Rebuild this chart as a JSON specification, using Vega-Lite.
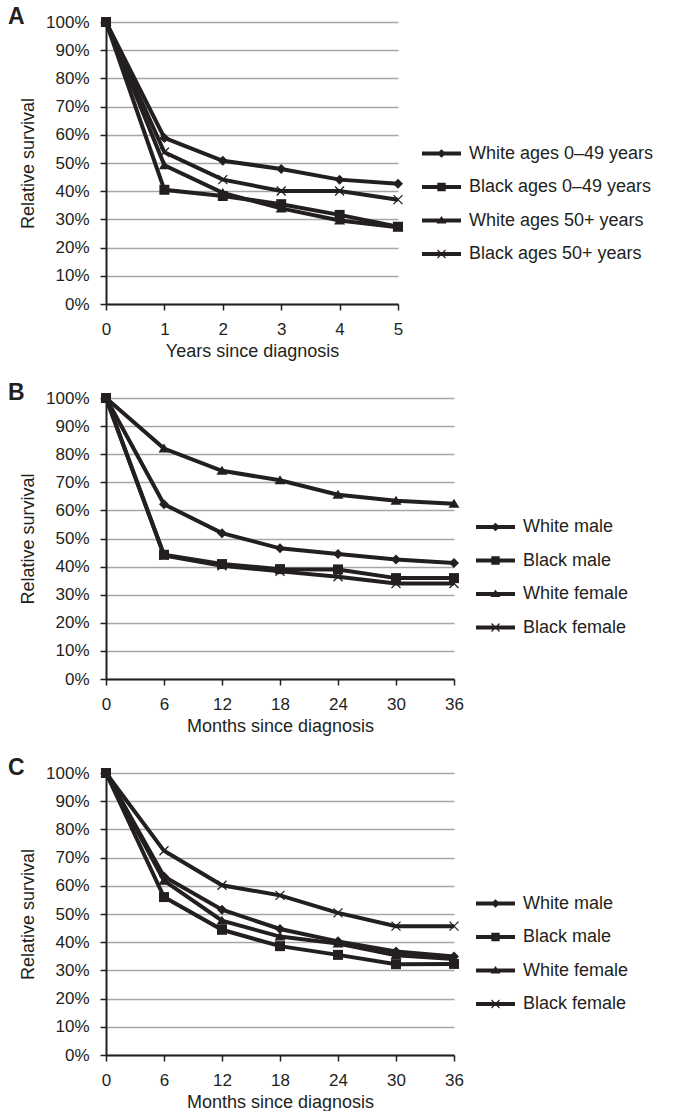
{
  "$schema": "https://vega.github.io/schema/vega-lite/v6.json",
  "background": "white",
  "padding": {"left": 8, "top": 6, "right": 0, "bottom": 0},
  "spacing": 22,
  "config": {
    "font": "Liberation Sans",
    "view": {"stroke": null},
    "axis": {
      "labelFont": "Liberation Sans", "labelFontSize": 17, "labelColor": "#231f20",
      "titleFont": "Liberation Sans", "titleFontSize": 18, "titleFontWeight": "normal", "titleColor": "#231f20",
      "domainColor": "#231f20", "domainWidth": 2, "tickColor": "#231f20", "tickWidth": 1.5, "tickSize": 6,
      "labelFlush": false, "labelOverlap": false, "gridColor": "#a6a6a6", "gridWidth": 1.3
    },
    "axisX": {"grid": false, "labelPadding": 11, "titlePadding": 5},
    "axisY": {"grid": true, "labelPadding": 11, "titlePadding": 8},
    "legend": {
      "labelFont": "Liberation Sans", "labelFontSize": 18, "labelColor": "#231f20", "labelLimit": 400,
      "symbolSize": 400, "symbolStrokeWidth": 0, "rowPadding": 14.5, "labelOffset": 17.5, "orient": "none"
    },
    "title": {"font": "Liberation Sans", "fontSize": 23, "fontWeight": "bold", "color": "#231f20", "anchor": "start", "frame": "group", "dx": -98, "offset": 0, "dy": 20, "baseline": "alphabetic"}
  },
  "datasets": {
    "a": [
      {"series": "White ages 0–49 years", "x": 0, "value": 100},
      {"series": "White ages 0–49 years", "x": 1, "value": 58.9},
      {"series": "White ages 0–49 years", "x": 2, "value": 50.8},
      {"series": "White ages 0–49 years", "x": 3, "value": 47.9},
      {"series": "White ages 0–49 years", "x": 4, "value": 44.1},
      {"series": "White ages 0–49 years", "x": 5, "value": 42.6},
      {"series": "White ages 50+ years", "x": 0, "value": 100},
      {"series": "White ages 50+ years", "x": 1, "value": 49.2},
      {"series": "White ages 50+ years", "x": 2, "value": 39.4},
      {"series": "White ages 50+ years", "x": 3, "value": 33.9},
      {"series": "White ages 50+ years", "x": 4, "value": 29.6},
      {"series": "White ages 50+ years", "x": 5, "value": 27.2},
      {"series": "Black ages 50+ years", "x": 0, "value": 100},
      {"series": "Black ages 50+ years", "x": 1, "value": 53.8},
      {"series": "Black ages 50+ years", "x": 2, "value": 44.1},
      {"series": "Black ages 50+ years", "x": 3, "value": 40.1},
      {"series": "Black ages 50+ years", "x": 4, "value": 40.1},
      {"series": "Black ages 50+ years", "x": 5, "value": 37.0},
      {"series": "Black ages 0–49 years", "x": 0, "value": 100},
      {"series": "Black ages 0–49 years", "x": 1, "value": 40.5},
      {"series": "Black ages 0–49 years", "x": 2, "value": 38.3},
      {"series": "Black ages 0–49 years", "x": 3, "value": 35.4},
      {"series": "Black ages 0–49 years", "x": 4, "value": 31.6},
      {"series": "Black ages 0–49 years", "x": 5, "value": 27.4}
    ],
    "b": [
      {"series": "White male", "x": 0, "value": 100},
      {"series": "White male", "x": 6, "value": 62.2},
      {"series": "White male", "x": 12, "value": 51.9},
      {"series": "White male", "x": 18, "value": 46.5},
      {"series": "White male", "x": 24, "value": 44.5},
      {"series": "White male", "x": 30, "value": 42.5},
      {"series": "White male", "x": 36, "value": 41.3},
      {"series": "White female", "x": 0, "value": 100},
      {"series": "White female", "x": 6, "value": 82.0},
      {"series": "White female", "x": 12, "value": 74.1},
      {"series": "White female", "x": 18, "value": 70.7},
      {"series": "White female", "x": 24, "value": 65.6},
      {"series": "White female", "x": 30, "value": 63.4},
      {"series": "White female", "x": 36, "value": 62.4},
      {"series": "Black female", "x": 0, "value": 100},
      {"series": "Black female", "x": 6, "value": 44.0},
      {"series": "Black female", "x": 12, "value": 40.3},
      {"series": "Black female", "x": 18, "value": 38.3},
      {"series": "Black female", "x": 24, "value": 36.4},
      {"series": "Black female", "x": 30, "value": 34.0},
      {"series": "Black female", "x": 36, "value": 34.0},
      {"series": "Black male", "x": 0, "value": 100},
      {"series": "Black male", "x": 6, "value": 44.2},
      {"series": "Black male", "x": 12, "value": 40.9},
      {"series": "Black male", "x": 18, "value": 39.1},
      {"series": "Black male", "x": 24, "value": 39.0},
      {"series": "Black male", "x": 30, "value": 35.9},
      {"series": "Black male", "x": 36, "value": 35.9}
    ],
    "c": [
      {"series": "White male", "x": 0, "value": 100},
      {"series": "White male", "x": 6, "value": 63.3},
      {"series": "White male", "x": 12, "value": 51.5},
      {"series": "White male", "x": 18, "value": 44.7},
      {"series": "White male", "x": 24, "value": 40.3},
      {"series": "White male", "x": 30, "value": 36.7},
      {"series": "White male", "x": 36, "value": 34.9},
      {"series": "White female", "x": 0, "value": 100},
      {"series": "White female", "x": 6, "value": 61.8},
      {"series": "White female", "x": 12, "value": 47.6},
      {"series": "White female", "x": 18, "value": 42.0},
      {"series": "White female", "x": 24, "value": 39.5},
      {"series": "White female", "x": 30, "value": 35.4},
      {"series": "White female", "x": 36, "value": 34.0},
      {"series": "Black female", "x": 0, "value": 100},
      {"series": "Black female", "x": 6, "value": 72.4},
      {"series": "Black female", "x": 12, "value": 60.2},
      {"series": "Black female", "x": 18, "value": 56.6},
      {"series": "Black female", "x": 24, "value": 50.4},
      {"series": "Black female", "x": 30, "value": 45.7},
      {"series": "Black female", "x": 36, "value": 45.7},
      {"series": "Black male", "x": 0, "value": 100},
      {"series": "Black male", "x": 6, "value": 56.0},
      {"series": "Black male", "x": 12, "value": 44.4},
      {"series": "Black male", "x": 18, "value": 38.6},
      {"series": "Black male", "x": 24, "value": 35.5},
      {"series": "Black male", "x": 30, "value": 32.2},
      {"series": "Black male", "x": 36, "value": 32.3}
    ]
  },
  "vconcat": [
    {
      "width": 292, "height": 282,
      "title": {"text": "A"},
      "data": {"name": "a"},
      "encoding": {
        "x": {"field": "x", "type": "quantitative", "scale": {"domain": [0, 5], "nice": false}, "axis": {"values": [0, 1, 2, 3, 4, 5], "title": "Years since diagnosis"}},
        "y": {"field": "value", "type": "quantitative", "scale": {"domain": [0, 100], "nice": false}, "axis": {"values": [0, 10, 20, 30, 40, 50, 60, 70, 80, 90, 100], "labelExpr": "datum.value + '%'", "title": "Relative survival"}}
      },
      "layer": [
        {"mark": {"type": "line", "color": "#231f20", "strokeWidth": 4}, "encoding": {"detail": {"field": "series"}}},
        {"mark": {"type": "point", "filled": true, "opacity": 1, "color": "#231f20", "size": 100},
         "encoding": {"shape": {"field": "series", "legend": null, "scale": {
           "domain": ["White ages 0–49 years", "Black ages 0–49 years", "White ages 50+ years", "Black ages 50+ years"],
           "range": ["M0,-1L1,0L0,1L-1,0Z", "M-1,-1H1V1H-1Z", "M0,-1L1.1,0.8H-1.1Z", "M-0.808,-0.992L0.992,0.808L0.808,0.992L-0.992,-0.808ZM0.992,-0.808L-0.808,0.992L-0.992,0.808L0.808,-0.992Z"]}}}},
        {"transform": [{"filter": "false"}],
         "mark": {"type": "point", "filled": true, "opacity": 1, "color": "#231f20", "size": 400},
         "encoding": {"shape": {"field": "series", "legend": {"title": null, "legendX": 325.5, "legendY": 121.5}, "scale": {
           "domain": ["White ages 0–49 years", "Black ages 0–49 years", "White ages 50+ years", "Black ages 50+ years"],
           "range": [
             "M-1.95,-0.19H1.95V0.19H-1.95ZM0,-0.42L0.45,0L0,0.42L-0.45,0Z",
             "M-1.95,-0.19H1.95V0.19H-1.95ZM-0.42,-0.42H0.42V0.42H-0.42Z",
             "M-1.95,-0.19H1.95V0.19H-1.95ZM0,-0.45L0.5,0.3H-0.5Z",
             "M-1.95,-0.19H1.95V0.19H-1.95ZM-0.358,-0.442L0.442,0.358L0.358,0.442L-0.442,-0.358ZM0.442,-0.358L-0.358,0.442L-0.442,0.358L0.358,-0.442Z"]}}}}
      ],
      "resolve": {"scale": {"shape": "independent"}, "legend": {"shape": "independent"}}
    },
    {
      "width": 348, "height": 281,
      "title": {"text": "B"},
      "data": {"name": "b"},
      "encoding": {
        "x": {"field": "x", "type": "quantitative", "scale": {"domain": [0, 36], "nice": false}, "axis": {"values": [0, 6, 12, 18, 24, 30, 36], "title": "Months since diagnosis"}},
        "y": {"field": "value", "type": "quantitative", "scale": {"domain": [0, 100], "nice": false}, "axis": {"values": [0, 10, 20, 30, 40, 50, 60, 70, 80, 90, 100], "labelExpr": "datum.value + '%'", "title": "Relative survival"}}
      },
      "layer": [
        {"mark": {"type": "line", "color": "#231f20", "strokeWidth": 4}, "encoding": {"detail": {"field": "series"}}},
        {"mark": {"type": "point", "filled": true, "opacity": 1, "color": "#231f20", "size": 100},
         "encoding": {"shape": {"field": "series", "legend": null, "scale": {
           "domain": ["White male", "Black male", "White female", "Black female"],
           "range": ["M0,-1L1,0L0,1L-1,0Z", "M-1,-1H1V1H-1Z", "M0,-1L1.1,0.8H-1.1Z", "M-0.808,-0.992L0.992,0.808L0.808,0.992L-0.992,-0.808ZM0.992,-0.808L-0.808,0.992L-0.992,0.808L0.808,-0.992Z"]}}}},
        {"transform": [{"filter": "false"}],
         "mark": {"type": "point", "filled": true, "opacity": 1, "color": "#231f20", "size": 400},
         "encoding": {"shape": {"field": "series", "legend": {"title": null, "legendX": 379.5, "legendY": 119}, "scale": {
           "domain": ["White male", "Black male", "White female", "Black female"],
           "range": [
             "M-1.95,-0.19H1.95V0.19H-1.95ZM0,-0.42L0.45,0L0,0.42L-0.45,0Z",
             "M-1.95,-0.19H1.95V0.19H-1.95ZM-0.42,-0.42H0.42V0.42H-0.42Z",
             "M-1.95,-0.19H1.95V0.19H-1.95ZM0,-0.45L0.5,0.3H-0.5Z",
             "M-1.95,-0.19H1.95V0.19H-1.95ZM-0.358,-0.442L0.442,0.358L0.358,0.442L-0.442,-0.358ZM0.442,-0.358L-0.358,0.442L-0.442,0.358L0.358,-0.442Z"]}}}}
      ],
      "resolve": {"scale": {"shape": "independent"}, "legend": {"shape": "independent"}}
    },
    {
      "width": 348, "height": 282,
      "title": {"text": "C"},
      "data": {"name": "c"},
      "encoding": {
        "x": {"field": "x", "type": "quantitative", "scale": {"domain": [0, 36], "nice": false}, "axis": {"values": [0, 6, 12, 18, 24, 30, 36], "title": "Months since diagnosis"}},
        "y": {"field": "value", "type": "quantitative", "scale": {"domain": [0, 100], "nice": false}, "axis": {"values": [0, 10, 20, 30, 40, 50, 60, 70, 80, 90, 100], "labelExpr": "datum.value + '%'", "title": "Relative survival"}}
      },
      "layer": [
        {"mark": {"type": "line", "color": "#231f20", "strokeWidth": 4}, "encoding": {"detail": {"field": "series"}}},
        {"mark": {"type": "point", "filled": true, "opacity": 1, "color": "#231f20", "size": 100},
         "encoding": {"shape": {"field": "series", "legend": null, "scale": {
           "domain": ["White male", "Black male", "White female", "Black female"],
           "range": ["M0,-1L1,0L0,1L-1,0Z", "M-1,-1H1V1H-1Z", "M0,-1L1.1,0.8H-1.1Z", "M-0.808,-0.992L0.992,0.808L0.808,0.992L-0.992,-0.808ZM0.992,-0.808L-0.808,0.992L-0.992,0.808L0.808,-0.992Z"]}}}},
        {"transform": [{"filter": "false"}],
         "mark": {"type": "point", "filled": true, "opacity": 1, "color": "#231f20", "size": 400},
         "encoding": {"shape": {"field": "series", "legend": {"title": null, "legendX": 379.5, "legendY": 120.5}, "scale": {
           "domain": ["White male", "Black male", "White female", "Black female"],
           "range": [
             "M-1.95,-0.19H1.95V0.19H-1.95ZM0,-0.42L0.45,0L0,0.42L-0.45,0Z",
             "M-1.95,-0.19H1.95V0.19H-1.95ZM-0.42,-0.42H0.42V0.42H-0.42Z",
             "M-1.95,-0.19H1.95V0.19H-1.95ZM0,-0.45L0.5,0.3H-0.5Z",
             "M-1.95,-0.19H1.95V0.19H-1.95ZM-0.358,-0.442L0.442,0.358L0.358,0.442L-0.442,-0.358ZM0.442,-0.358L-0.358,0.442L-0.442,0.358L0.358,-0.442Z"]}}}}
      ],
      "resolve": {"scale": {"shape": "independent"}, "legend": {"shape": "independent"}}
    }
  ]
}
